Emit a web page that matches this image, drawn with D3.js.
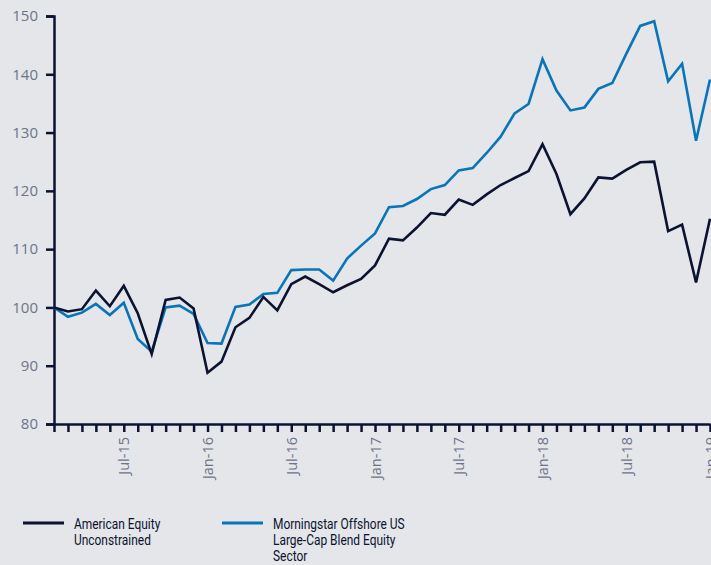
<!DOCTYPE html>
<html>
<head>
<meta charset="utf-8">
<script src="https://cdn.jsdelivr.net/npm/d3@7"></script>
<style>
  html, body { margin: 0; padding: 0; background: #e4e6ea; }
  svg { display: block; }
</style>
</head>
<body>
<div id="chart"></div>
<script>
// Monthly index values, Feb-15 .. Jan-19 (rebased to 100)
var months = ["Feb-15","Mar-15","Apr-15","May-15","Jun-15","Jul-15","Aug-15","Sep-15","Oct-15","Nov-15","Dec-15",
  "Jan-16","Feb-16","Mar-16","Apr-16","May-16","Jun-16","Jul-16","Aug-16","Sep-16","Oct-16","Nov-16","Dec-16",
  "Jan-17","Feb-17","Mar-17","Apr-17","May-17","Jun-17","Jul-17","Aug-17","Sep-17","Oct-17","Nov-17","Dec-17",
  "Jan-18","Feb-18","Mar-18","Apr-18","May-18","Jun-18","Jul-18","Aug-18","Sep-18","Oct-18","Nov-18","Dec-18","Jan-19"];

var americanEquity = [100, 99.3, 99.7, 102.9, 100.2, 103.7, 99.0, 92.0, 101.3, 101.7, 99.8,
  88.8, 90.7, 96.6, 98.2, 101.8, 99.5, 104.0, 105.3, 104.0, 102.6, 103.8, 104.9,
  107.2, 111.8, 111.5, 113.7, 116.2, 115.9, 118.5, 117.6, 119.4, 121.0, 122.2, 123.4,
  128.0, 122.9, 116.0, 118.7, 122.3, 122.1, 123.6, 124.9, 125.0, 113.1, 114.2, 104.3, 115.2];

var morningstarSector = [100, 98.4, 99.1, 100.6, 98.7, 100.8, 94.6, 92.4, 100.0, 100.3, 98.9,
  93.9, 93.8, 100.1, 100.5, 102.3, 102.5, 106.4, 106.5, 106.5, 104.6, 108.4, 110.6,
  112.7, 117.2, 117.4, 118.6, 120.3, 121.0, 123.5, 123.9, 126.5, 129.3, 133.3, 134.9,
  142.6, 137.2, 133.8, 134.3, 137.5, 138.5, 143.5, 148.3, 149.1, 138.8, 141.8, 128.6, 139.1];

var tickLabels = ["Jul-15","Jan-16","Jul-16","Jan-17","Jul-17","Jan-18","Jul-18","Jan-19"];
var yTicks = [80, 90, 100, 110, 120, 130, 140, 150];

var seriesNames = [["American Equity", "Unconstrained"], ["Morningstar Offshore US", "Large-Cap Blend Equity", "Sector"]];
var seriesColors = ["#0b1330", "#0a74b9"];

var width = 711, height = 565;
var margin = {top: 16, left: 54, right: 1, bottom: 141};

var svg = d3.select("#chart").append("svg")
  .attr("width", width)
  .attr("height", height);

svg.append("rect").attr("width", width).attr("height", height).attr("fill", "#e4e6ea");

var x = d3.scalePoint()
  .domain(months)
  .range([margin.left, width - margin.right]);

var y = d3.scaleLinear()
  .domain([80, 150])
  .range([height - margin.bottom, margin.top]);

// y axis
var yAxis = svg.append("g")
  .attr("transform", "translate(" + margin.left + ",0)")
  .call(d3.axisLeft(y).tickValues(yTicks).tickSize(8).tickPadding(8));
yAxis.select(".domain").attr("stroke", "#0b1330").attr("stroke-width", 2.5);
yAxis.selectAll(".tick line").attr("stroke", "#0b1330").attr("stroke-width", 2.5);
yAxis.selectAll(".tick text")
  .attr("fill", "#6d7488")
  .style("font-family", "'Open Sans', sans-serif")
  .style("font-size", "15px");

// x axis
var xAxis = svg.append("g")
  .attr("transform", "translate(0," + y(80) + ")")
  .call(d3.axisBottom(x).tickSize(8).tickSizeOuter(0)
    .tickFormat(function(d) { return tickLabels.indexOf(d) >= 0 ? d : ""; }));
xAxis.select(".domain").attr("stroke", "#0b1330").attr("stroke-width", 2.5);
xAxis.selectAll(".tick line").attr("stroke", "#0b1330").attr("stroke-width", 2.5);
xAxis.selectAll(".tick text")
  .attr("fill", "#6d7488")
  .attr("text-anchor", "end")
  .attr("dy", "0.35em")
  .attr("transform", "translate(0,13) rotate(-90)")
  .attr("x", 0).attr("y", 0)
  .style("font-family", "'Open Sans', sans-serif")
  .style("font-size", "14.5px");

// lines
var line = d3.line()
  .x(function(d, i) { return x(months[i]); })
  .y(function(d) { return y(d); });

[morningstarSector, americanEquity].forEach(function(s, k) {
  svg.append("path")
    .datum(s)
    .attr("fill", "none")
    .attr("stroke", k == 0 ? seriesColors[1] : seriesColors[0])
    .attr("stroke-width", 2.6)
    .attr("stroke-linejoin", "miter")
    .attr("d", line);
});

// legend (condensed look: squeeze each text line horizontally)
var legendX = [23, 222];
seriesNames.forEach(function(names, k) {
  var g = svg.append("g").attr("transform", "translate(" + legendX[k] + ",523)");
  g.append("line").attr("x1", 0).attr("x2", 41).attr("y1", 0).attr("y2", 0)
    .attr("stroke", seriesColors[k]).attr("stroke-width", 3);
  g.selectAll("text.lg")
    .data(names)
    .enter().append("text")
    .attr("class", "lg")
    .attr("transform", function(d, i) { return "translate(51," + (6 + i * 15.8) + ") scale(0.77,1)"; })
    .attr("fill", "#0b1330")
    .style("font-family", "'Roboto', sans-serif")
    .style("font-size", "15.5px")
    .text(function(d) { return d; });
});
</script>
</body>
</html>
